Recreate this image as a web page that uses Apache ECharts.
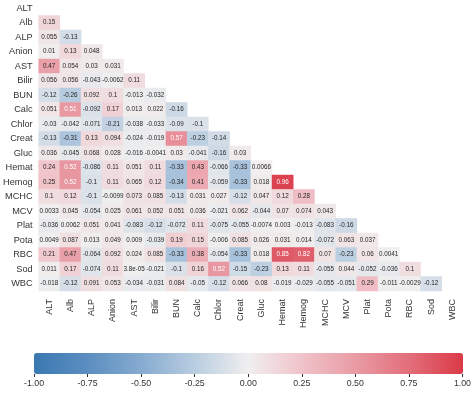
<!DOCTYPE html>
<html>
<head>
<meta charset="utf-8">
<script src="https://cdn.jsdelivr.net/npm/echarts@6/dist/echarts.min.js"></script>
<style>
html,body{margin:0;padding:0;background:#fff;}
#chart{width:474px;height:393px;}
</style>
</head>
<body>
<div id="chart"></div>
<script>
const variables = ["ALT","Alb","ALP","Anion","AST","Bilir","BUN","Calc","Chlor","Creat","Gluc","Hemat","Hemog","MCHC","MCV","Plat","Pota","RBC","Sod","WBC"];

// lower triangle, row i has i values (columns 0..i-1)
const corrRows = [
  [],
  [0.15],
  [0.055, -0.13],
  [0.01, 0.13, 0.048],
  [0.47, 0.054, 0.03, 0.031],
  [0.056, 0.056, -0.043, -0.0062, 0.11],
  [-0.12, -0.26, 0.092, 0.1, -0.013, -0.032],
  [0.051, 0.51, -0.092, 0.17, 0.013, 0.022, -0.16],
  [-0.03, -0.042, -0.071, -0.21, -0.038, -0.033, -0.09, -0.1],
  [-0.13, -0.31, 0.13, 0.094, -0.024, -0.019, 0.57, -0.23, -0.14],
  [0.036, -0.045, 0.068, 0.028, -0.016, -0.0041, 0.03, -0.041, -0.16, 0.03],
  [0.24, 0.52, -0.086, 0.11, 0.051, 0.11, -0.33, 0.43, -0.066, -0.33, 0.0066],
  [0.25, 0.52, -0.1, 0.11, 0.065, 0.12, -0.34, 0.41, -0.059, -0.33, 0.018, 0.96],
  [0.1, 0.12, -0.1, -0.0099, 0.073, 0.085, -0.13, 0.031, 0.027, -0.12, 0.047, 0.12, 0.28],
  [0.0033, 0.045, -0.054, 0.025, 0.061, 0.052, 0.051, 0.036, -0.021, 0.062, -0.044, 0.07, 0.074, 0.043],
  [-0.036, 0.0062, 0.051, 0.041, -0.083, -0.12, -0.072, 0.11, -0.075, -0.055, -0.0074, 0.003, -0.013, -0.083, -0.16],
  [0.0049, 0.087, 0.013, 0.049, 0.009, -0.039, 0.19, 0.15, -0.006, 0.085, 0.026, 0.031, 0.014, -0.072, 0.063, 0.037],
  [0.21, 0.47, -0.064, 0.092, 0.024, 0.085, -0.33, 0.38, -0.054, -0.33, 0.018, 0.85, 0.82, 0.07, -0.23, 0.06, 0.0041],
  [0.011, 0.17, -0.074, 0.11, 3.8e-05, -0.021, -0.1, 0.16, 0.52, -0.15, -0.23, 0.13, 0.11, -0.055, 0.044, -0.052, -0.036, 0.1],
  [-0.018, -0.12, 0.091, 0.053, -0.034, -0.031, 0.084, -0.05, -0.12, 0.066, 0.08, -0.019, -0.029, -0.055, -0.051, 0.29, -0.011, -0.0029, -0.12]
];

const colorbarTicks = [-1, -0.75, -0.5, -0.25, 0, 0.25, 0.5, 0.75, 1];
const paletteColors = ["#3a78b1","#5b8ec0","#86abd0","#b9cde0","#f0efef","#f0c3c9","#e99ba4","#e26e7a","#db3a47"];

function fmtG(v){
  if (v === 0) return "0";
  if (Math.abs(v) < 1e-4){
    let s = v.toExponential(1);
    return s.replace(/e([+-])(\d)$/, "e$10$2");
  }
  let s = v.toPrecision(2);
  if (s.indexOf(".") >= 0) s = s.replace(/0+$/, "").replace(/\.$/, "");
  return s;
}

const cells = [];
corrRows.forEach((row, i) => {
  row.forEach((v, j) => {
    cells.push({
      value: [j, i, v],
      label: { color: v > 0.5 ? "#ffffff" : "#262626" }
    });
  });
});

const FONT = "'Liberation Sans', Arial, sans-serif";
const chart = echarts.init(document.getElementById("chart"), null, {renderer: "canvas"});
chart.setOption({
  animation: false,
  backgroundColor: "#ffffff",
  textStyle: { fontFamily: FONT },
  grid: [
    { left: 33, top: 1, width: 430, height: 290 },
    { left: 34, top: 353, width: 429, height: 21 }
  ],
  xAxis: [
    {
      type: "category", data: variables, gridIndex: 0,
      axisLine: {show: false}, axisTick: {show: false}, splitLine: {show: false},
      axisLabel: { rotate: 90, fontSize: 9, color: "#333", margin: 8, fontFamily: FONT, interval: 0 }
    },
    {
      type: "value", gridIndex: 1, min: -1, max: 1, interval: 0.25,
      axisLine: {show: false}, splitLine: {show: false},
      axisTick: { show: true, length: 3, lineStyle: {color: "#333", width: 1} },
      axisLabel: { fontSize: 8.8, color: "#333", margin: 5, fontFamily: FONT,
        formatter: v => v.toFixed(2) }
    }
  ],
  yAxis: [
    {
      type: "category", data: variables, gridIndex: 0, inverse: true,
      axisLine: {show: false}, axisTick: {show: false}, splitLine: {show: false},
      axisLabel: { fontSize: 9.2, color: "#333", margin: 6, fontFamily: FONT, interval: 0 }
    },
    { type: "value", gridIndex: 1, show: false, min: 0, max: 1 }
  ],
  visualMap: {
    type: "continuous", min: -1, max: 1, orient: "horizontal",
    left: 34, top: 353, itemWidth: 21, itemHeight: 429, padding: 0,
    calculable: false, hoverLink: false, text: null, showLabel: false,
    seriesIndex: 0,
    inRange: { color: paletteColors }
  },
  series: [{
    type: "heatmap",
    xAxisIndex: 0, yAxisIndex: 0,
    data: cells,
    label: {
      show: true, fontSize: 6.3, fontFamily: FONT,
      formatter: p => fmtG(p.value[2])
    },
    itemStyle: { borderWidth: 0 },
    emphasis: { disabled: true }
  }]
});
</script>
</body>
</html>
